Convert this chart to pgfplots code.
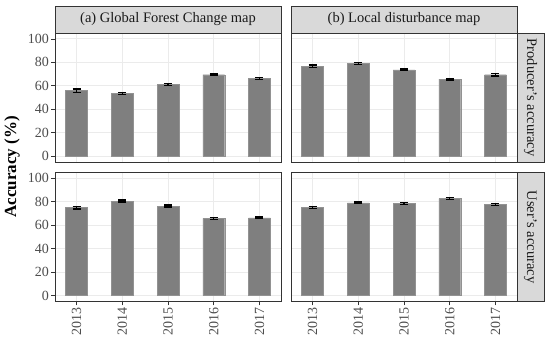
\documentclass[border=0pt]{standalone}
\usepackage{pgfplots}
\pgfplotsset{compat=1.18}
\usepackage{fontspec}
\setmainfont{Liberation Serif}
\definecolor{gridc}{HTML}{EBEBEB}
\definecolor{bord}{HTML}{333333}
\definecolor{stripc}{HTML}{D9D9D9}
\definecolor{barc}{HTML}{7F7F7F}
\definecolor{tickc}{HTML}{4D4D4D}
\definecolor{stript}{HTML}{1A1A1A}

\pgfplotstableread{
x y e
0 55.8 1.5
1 53.3 0.8
2 61.2 0.8
3 69.4 0.8
4 66.4 0.8
}\gfcPA
\pgfplotstableread{
x y e
0 76.8 1.0
1 79.1 0.8
2 73.6 0.8
3 65.6 0.8
4 69.4 1.0
}\locPA
\pgfplotstableread{
x y e
0 75.0 1.0
1 80.6 0.8
2 76.4 0.8
3 65.8 0.8
4 66.4 0.8
}\gfcUA
\pgfplotstableread{
x y e
0 75.2 0.8
1 79.2 0.8
2 78.7 0.8
3 82.8 0.8
4 77.8 0.8
}\locUA

\pgfplotsset{
 panel/.style={
  scale only axis, width=226pt, height=129pt,
  xmin=-0.47, xmax=4.47, ymin=-5, ymax=105,
  xtick={0,1,2,3,4}, ytick={0,20,40,60,80,100},
  xticklabels={2013,2014,2015,2016,2017},
  grid=major, major grid style={gridc, line width=0.9pt},
  axis line style={bord, line width=0.9pt},
  tick style={bord, line width=0.7pt},
  tick align=outside, major tick length=4pt,
  xtick pos=bottom, ytick pos=left,
  tick label style={font=\fontsize{14}{14}\selectfont, text=tickc},
  x tick label style={rotate=90, anchor=east, inner sep=2pt},
  y tick label style={inner sep=2pt},
  /pgf/number format/assume math mode=true,
  anchor=north west, axis on top=false,
 },
 notx/.style={xticklabels={}, xtick style={draw=none}},
 noty/.style={yticklabels={}, ytick style={draw=none}},
 bars/.style={ybar, bar width=0.48, fill=barc, draw=barc!85!white, line width=0.4pt,
   error bars/.cd, y dir=both, y explicit,
   error bar style={black, line width=1.1pt},
   error mark options={black, line width=1.4pt, mark size=4pt, rotate=90}},
}

\begin{document}
\begin{tikzpicture}[x=1pt,y=1pt]
\useasboundingbox (0,0) rectangle (550,-344);

\begin{axis}[panel, notx, at={(55pt,-33pt)}]
\addplot[bars] table[x=x,y=y,y error=e]{\gfcPA};
\end{axis}
\begin{axis}[panel, notx, noty, at={(291pt,-33pt)}]
\addplot[bars] table[x=x,y=y,y error=e]{\locPA};
\end{axis}
\begin{axis}[panel, at={(55pt,-172.5pt)}]
\addplot[bars] table[x=x,y=y,y error=e]{\gfcUA};
\end{axis}
\begin{axis}[panel, noty, at={(291pt,-172.5pt)}]
\addplot[bars] table[x=x,y=y,y error=e]{\locUA};
\end{axis}

% strips
\draw[fill=stripc, draw=bord, line width=0.9pt] (55,-6) rectangle (281,-33);
\draw[fill=stripc, draw=bord, line width=0.9pt] (291,-6) rectangle (517,-33);
\draw[fill=stripc, draw=bord, line width=0.9pt] (517,-33) rectangle (544,-162);
\draw[fill=stripc, draw=bord, line width=0.9pt] (517,-172.5) rectangle (544,-301.5);
\node[text=stript, font=\fontsize{14.5}{14.5}\selectfont] at (168,-19.5) {(a) Global Forest Change map};
\node[text=stript, font=\fontsize{14.5}{14.5}\selectfont] at (404,-19.5) {(b) Local disturbance map};
\node[text=stript, font=\fontsize{14.5}{14.5}\selectfont, rotate=-90] at (530.5,-97.5) {Producer's accuracy};
\node[text=stript, font=\fontsize{14.5}{14.5}\selectfont, rotate=-90] at (530.5,-237) {User's accuracy};

\node[font=\bfseries\fontsize{17}{17}\selectfont, rotate=90] at (12,-167) {Accuracy (\%)};
\end{tikzpicture}
\end{document}
